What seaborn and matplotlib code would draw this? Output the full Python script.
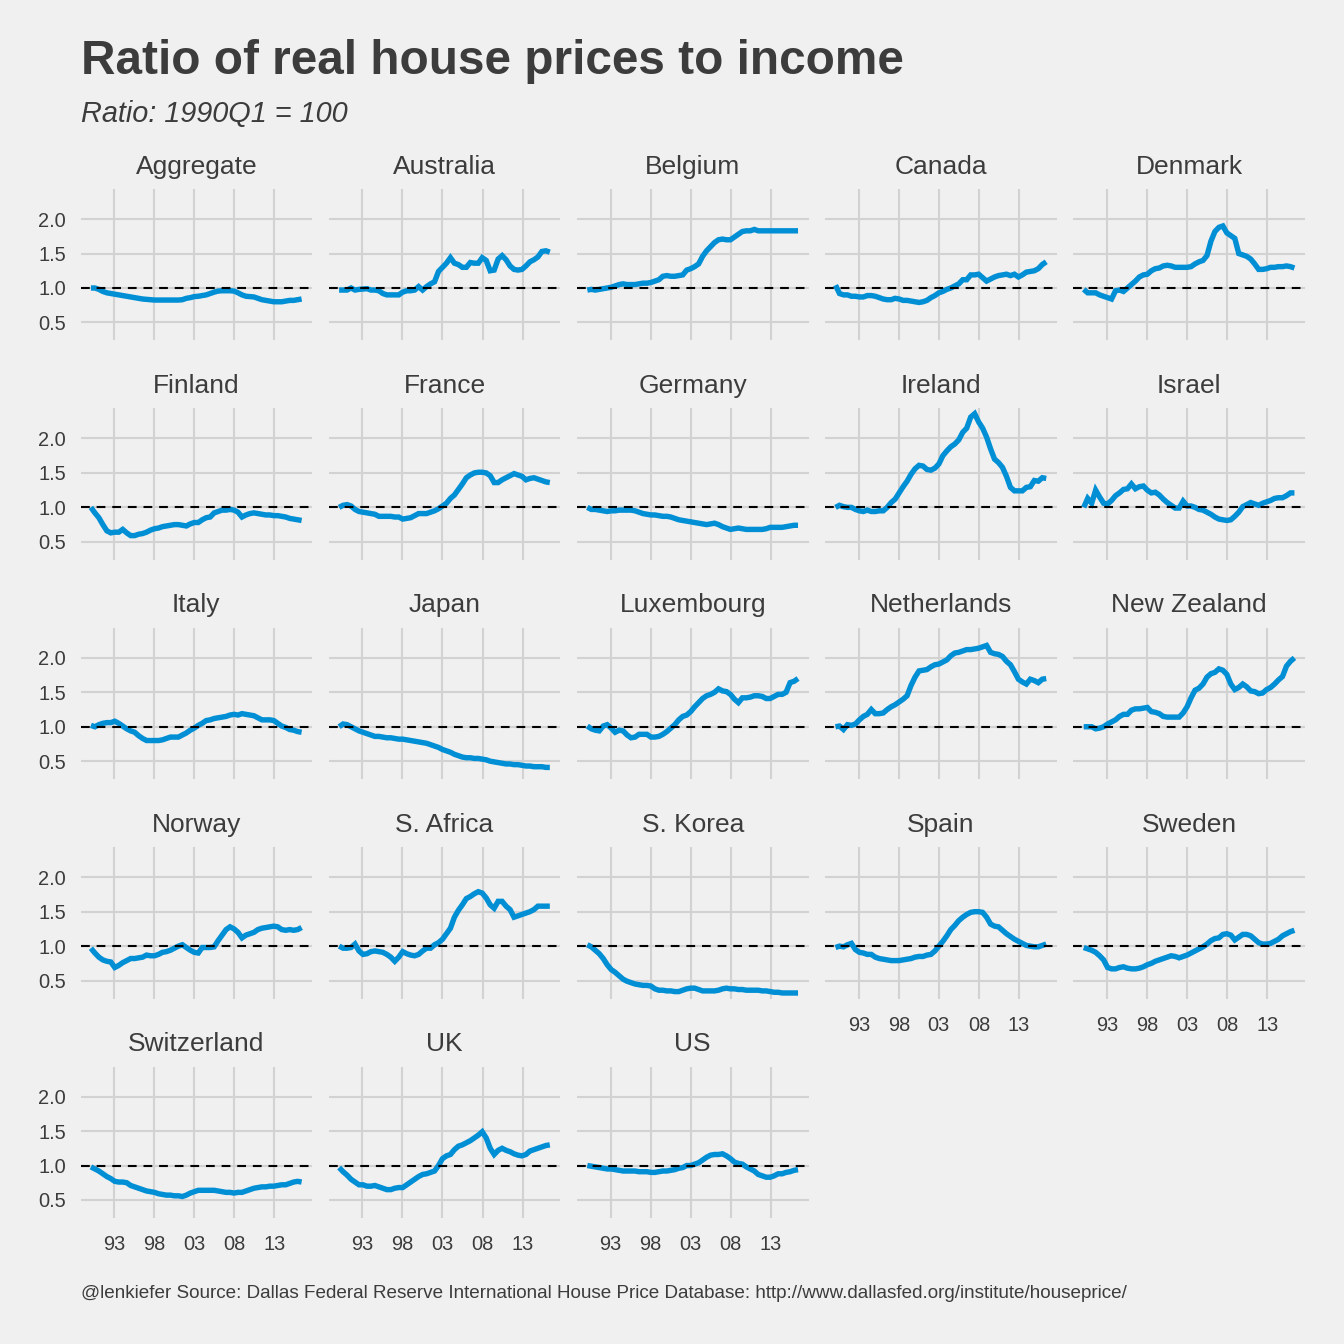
import numpy as np
import pandas as pd
import matplotlib
matplotlib.use("Agg")
import matplotlib.pyplot as plt
import seaborn as sns

TITLE = "Ratio of real house prices to income"
SUBTITLE = "Ratio: 1990Q1 = 100"
CAPTION = "@lenkiefer Source: Dallas Federal Reserve International House Price Database: http://www.dallasfed.org/institute/houseprice/"

countries = ["Aggregate", "Australia", "Belgium", "Canada", "Denmark", "Finland", "France", "Germany",
             "Ireland", "Israel", "Italy", "Japan", "Luxembourg", "Netherlands", "New Zealand", "Norway",
             "S. Africa", "S. Korea", "Spain", "Sweden", "Switzerland", "UK", "US"]
x_ticks = [1993, 1998, 2003, 2008, 2013]
x_labels = ["93", "98", "03", "08", "13"]
y_ticks = [0.5, 1.0, 1.5, 2.0]
y_labels = ["0.5", "1.0", "1.5", "2.0"]

# half-yearly readings, 1990 to 2016
aggregate = [1.0,1.0,.98,.95,.93,.92,.91,.90,.89,.88,.87,.86,.85,.84,.835,.83,.825,.825,.825,.825,.825,.825,.825,.83,.85,.86,.875,.88,.89,.90,.92,.94,.955,.96,.96,.96,.955,.93,.90,.88,.875,.87,.85,.83,.82,.81,.80,.80,.80,.81,.82,.82,.83,.84]
australia = [.97,.97,.97,1.0,.97,.98,.985,.99,.97,.97,.96,.92,.90,.90,.90,.90,.94,.96,.96,.97,1.02,.97,1.02,1.06,1.09,1.24,1.30,1.36,1.44,1.36,1.34,1.30,1.30,1.37,1.36,1.36,1.44,1.40,1.25,1.26,1.42,1.47,1.41,1.32,1.27,1.26,1.27,1.32,1.38,1.41,1.45,1.53,1.54,1.52]
belgium = [.97,.98,.97,.98,.99,1.0,1.01,1.03,1.05,1.06,1.05,1.05,1.05,1.06,1.07,1.07,1.08,1.10,1.12,1.17,1.18,1.17,1.17,1.18,1.19,1.26,1.28,1.31,1.35,1.46,1.54,1.60,1.66,1.70,1.71,1.70,1.70,1.74,1.78,1.82,1.83,1.83,1.85,1.83,1.83,1.83,1.83,1.83,1.83,1.83,1.83,1.83,1.83,1.83]
canada = [1.04,.92,.90,.90,.88,.88,.87,.87,.89,.89,.88,.86,.84,.83,.83,.85,.84,.82,.82,.81,.80,.79,.80,.82,.86,.89,.93,.95,.98,1.0,1.03,1.06,1.12,1.12,1.19,1.19,1.20,1.15,1.10,1.13,1.16,1.18,1.19,1.20,1.18,1.20,1.16,1.19,1.23,1.24,1.25,1.28,1.34,1.38]
denmark = [.98,.93,.93,.93,.90,.88,.86,.84,.96,.97,.95,1.0,1.05,1.10,1.16,1.19,1.20,1.25,1.28,1.29,1.32,1.33,1.32,1.30,1.30,1.30,1.30,1.31,1.35,1.38,1.40,1.47,1.68,1.82,1.88,1.90,1.80,1.76,1.72,1.50,1.48,1.46,1.42,1.35,1.27,1.27,1.28,1.30,1.30,1.31,1.31,1.32,1.31,1.29]
finland = [1.0,.92,.85,.75,.66,.63,.64,.64,.68,.63,.59,.59,.61,.62,.64,.67,.69,.70,.72,.73,.74,.75,.75,.74,.73,.76,.78,.78,.82,.85,.86,.92,.94,.96,.96,.97,.96,.93,.86,.89,.91,.92,.91,.90,.89,.89,.88,.88,.87,.86,.84,.83,.82,.81]
france = [1.0,1.03,1.04,1.02,.97,.94,.93,.92,.91,.90,.87,.87,.87,.87,.86,.86,.83,.84,.85,.88,.91,.91,.91,.93,.95,.98,1.02,1.06,1.13,1.18,1.26,1.34,1.43,1.47,1.50,1.51,1.51,1.50,1.46,1.36,1.36,1.40,1.43,1.46,1.49,1.47,1.45,1.40,1.42,1.43,1.41,1.39,1.37,1.36]
germany = [1.0,.97,.97,.96,.95,.94,.95,.95,.96,.96,.96,.96,.95,.93,.91,.90,.89,.89,.88,.87,.87,.86,.84,.82,.81,.80,.79,.78,.77,.76,.75,.76,.77,.75,.72,.70,.68,.69,.70,.69,.68,.68,.68,.68,.68,.69,.71,.71,.71,.71,.72,.73,.74,.74]
ireland = [1.0,1.03,1.01,1.0,1.0,.97,.95,.94,.96,.94,.94,.95,.95,1.0,1.07,1.12,1.21,1.30,1.38,1.48,1.56,1.61,1.60,1.55,1.54,1.57,1.63,1.75,1.82,1.88,1.92,1.98,2.09,2.15,2.31,2.36,2.24,2.15,2.02,1.85,1.70,1.65,1.58,1.45,1.29,1.24,1.24,1.24,1.29,1.30,1.39,1.38,1.43,1.42]
israel = [1.0,1.13,1.06,1.25,1.15,1.06,1.05,1.10,1.17,1.21,1.26,1.27,1.34,1.27,1.30,1.31,1.25,1.21,1.22,1.18,1.12,1.07,1.03,.99,.99,1.09,1.02,1.02,1.0,.97,.96,.93,.90,.86,.83,.82,.81,.82,.87,.93,1.01,1.04,1.07,1.05,1.03,1.06,1.08,1.10,1.13,1.14,1.14,1.17,1.21,1.21]
italy = [1.02,1.0,1.03,1.05,1.06,1.06,1.08,1.05,1.01,.97,.94,.92,.87,.83,.80,.80,.80,.80,.81,.83,.85,.85,.85,.88,.91,.95,.98,1.02,1.05,1.09,1.10,1.12,1.13,1.14,1.15,1.17,1.18,1.17,1.19,1.18,1.17,1.16,1.13,1.10,1.10,1.10,1.09,1.05,1.01,.99,.96,.95,.93,.92]
japan = [1.0,1.04,1.03,1.0,.97,.94,.92,.90,.88,.86,.86,.85,.84,.84,.83,.82,.82,.81,.80,.79,.78,.77,.76,.74,.72,.70,.67,.65,.63,.60,.58,.56,.55,.55,.54,.54,.53,.52,.50,.49,.48,.47,.46,.46,.45,.45,.44,.43,.43,.42,.42,.42,.41,.41]
luxembourg = [1.01,.97,.95,.94,1.01,1.03,.98,.92,.95,.94,.88,.84,.85,.89,.89,.89,.85,.85,.86,.89,.93,.98,1.03,1.10,1.15,1.17,1.22,1.29,1.35,1.41,1.45,1.47,1.50,1.55,1.52,1.51,1.47,1.40,1.35,1.42,1.42,1.43,1.45,1.45,1.44,1.41,1.41,1.44,1.47,1.47,1.50,1.64,1.66,1.70]
netherlands = [1.0,1.01,.96,1.03,1.02,1.04,1.10,1.15,1.18,1.25,1.19,1.19,1.20,1.25,1.29,1.32,1.36,1.40,1.45,1.60,1.72,1.81,1.82,1.83,1.87,1.90,1.91,1.94,1.97,2.03,2.07,2.08,2.10,2.12,2.12,2.13,2.14,2.16,2.18,2.08,2.06,2.05,2.02,1.95,1.90,1.80,1.69,1.65,1.62,1.69,1.67,1.64,1.69,1.70]
new_zealand = [1.0,1.0,1.0,.97,.98,1.0,1.04,1.07,1.10,1.15,1.18,1.18,1.24,1.26,1.26,1.27,1.28,1.22,1.21,1.19,1.15,1.14,1.14,1.14,1.14,1.20,1.29,1.42,1.53,1.56,1.62,1.72,1.77,1.79,1.84,1.82,1.76,1.62,1.54,1.57,1.62,1.58,1.52,1.51,1.48,1.49,1.54,1.57,1.62,1.68,1.73,1.88,1.95,2.0]
norway = [.97,.90,.84,.80,.78,.77,.69,.72,.76,.79,.82,.82,.83,.84,.87,.86,.86,.88,.91,.92,.94,.97,1.0,1.02,.98,.94,.91,.90,.98,.98,.98,.99,1.08,1.16,1.24,1.28,1.25,1.20,1.12,1.16,1.18,1.20,1.24,1.26,1.27,1.28,1.29,1.28,1.24,1.23,1.24,1.23,1.24,1.27]
s_africa = [1.0,.97,.97,.98,1.03,.93,.88,.89,.92,.93,.92,.91,.88,.84,.78,.84,.92,.89,.87,.86,.88,.93,.97,.97,1.02,1.05,1.10,1.18,1.26,1.42,1.52,1.60,1.69,1.72,1.76,1.79,1.77,1.70,1.60,1.55,1.65,1.65,1.58,1.53,1.42,1.44,1.46,1.48,1.50,1.53,1.58,1.58,1.58,1.58]
s_korea = [1.02,.99,.94,.89,.82,.73,.66,.62,.57,.52,.49,.47,.45,.44,.43,.43,.42,.38,.36,.36,.35,.35,.34,.34,.36,.38,.39,.39,.37,.35,.35,.35,.35,.36,.38,.39,.38,.38,.37,.37,.36,.36,.36,.36,.35,.35,.34,.33,.33,.32,.32,.32,.32,.32]
spain = [.98,1.0,.99,1.02,1.04,.95,.91,.90,.88,.88,.84,.82,.81,.80,.79,.79,.79,.80,.81,.82,.84,.85,.85,.87,.88,.93,1.0,1.07,1.15,1.24,1.30,1.37,1.42,1.46,1.49,1.50,1.50,1.49,1.42,1.32,1.29,1.28,1.23,1.18,1.14,1.10,1.07,1.04,1.01,1.0,.99,.99,1.01,1.03]
sweden = [.98,.96,.94,.91,.86,.80,.69,.67,.67,.69,.70,.68,.67,.67,.68,.70,.73,.75,.78,.80,.82,.84,.86,.85,.83,.85,.87,.90,.93,.96,.99,1.03,1.08,1.11,1.12,1.17,1.18,1.16,1.09,1.13,1.17,1.17,1.15,1.10,1.05,1.03,1.03,1.04,1.07,1.10,1.15,1.18,1.21,1.23]
switzerland = [.98,.95,.92,.88,.84,.81,.77,.76,.76,.75,.71,.69,.67,.65,.63,.62,.61,.59,.58,.57,.57,.56,.56,.55,.57,.60,.62,.64,.64,.64,.64,.64,.63,.62,.61,.61,.60,.61,.61,.63,.65,.67,.68,.69,.69,.70,.70,.71,.72,.72,.74,.76,.77,.76]
uk = [.97,.91,.86,.80,.76,.72,.72,.70,.70,.71,.69,.67,.65,.65,.67,.68,.68,.72,.76,.80,.84,.87,.88,.90,.92,1.0,1.10,1.14,1.16,1.23,1.28,1.30,1.33,1.36,1.40,1.44,1.49,1.40,1.25,1.16,1.22,1.25,1.22,1.20,1.17,1.15,1.14,1.16,1.21,1.23,1.25,1.27,1.29,1.30]
us = [1.0,.99,.98,.97,.96,.95,.95,.94,.93,.92,.92,.92,.92,.91,.91,.91,.90,.90,.91,.92,.92,.93,.94,.96,.97,1.0,1.0,1.02,1.04,1.08,1.12,1.15,1.16,1.16,1.17,1.14,1.10,1.05,1.03,1.02,.98,.95,.92,.87,.85,.83,.83,.85,.88,.88,.90,.91,.93,.94]

series = [aggregate, australia, belgium, canada, denmark, finland, france, germany, ireland, israel, italy,
          japan, luxembourg, netherlands, new_zealand, norway, s_africa, s_korea, spain, sweden, switzerland, uk, us]

frames = []
for name, vals in zip(countries, series):
    frames.append(pd.DataFrame({"country": name,
                                "year": np.linspace(1990.1, 2016.4, len(vals)),
                                "ratio": vals}))
df = pd.concat(frames, ignore_index=True)

BG = "#F0F0F0"
GRID = "#D2D2D2"
INK = "#3C3C3C"
BLUE = "#008FD5"

sns.set_theme(style="white", rc={"figure.facecolor": BG, "axes.facecolor": BG, "savefig.facecolor": BG})
plt.rcParams["font.family"] = ["Liberation Sans", "DejaVu Sans"]

W = H = 1344
g = sns.FacetGrid(df, col="country", col_order=countries, col_wrap=5, sharex=True, sharey=True,
                  height=2.2, aspect=1.5)
g.map_dataframe(sns.lineplot, x="year", y="ratio", color=BLUE, lw=3.9, errorbar=None,
                solid_joinstyle="miter", solid_capstyle="butt", zorder=3)
g.figure.set_size_inches(W / 100, H / 100)
g.figure.subplots_adjust(left=80.5 / W, right=1305 / W, top=1 - 189 / H, bottom=1 - 1218 / H,
                         wspace=16.5 / 231.5, hspace=67.9 / 151.5)

axes = g.axes.flatten()
for i, (ax, name) in enumerate(zip(axes, countries)):
    ax.set_xlim(1988.8, 2017.72)
    ax.set_ylim(0.238, 2.437)
    ax.set_xticks(x_ticks)
    ax.set_xticklabels(x_labels)
    ax.set_yticks(y_ticks)
    ax.set_yticklabels(y_labels)
    ax.grid(True, color=GRID, lw=1.5)
    ax.set_axisbelow(True)
    for s in ax.spines.values():
        s.set_visible(False)
    ax.axhline(1.0, color="black", lw=1.5, ls=(0, (4.2, 3.3)), zorder=4)
    ax.set_title(name, fontsize=19, color=INK, pad=11)
    ax.set_xlabel("")
    ax.set_ylabel("")
    show_x = i >= 18
    show_y = i % 5 == 0
    ax.tick_params(axis="both", length=0, labelsize=14.4, labelcolor=INK,
                   labelbottom=show_x, labelleft=show_y)
    ax.tick_params(axis="x", pad=12.5)
    ax.tick_params(axis="y", pad=10.4)
    for lab in ax.get_xticklabels():
        lab.set_visible(show_x)
    for lab in ax.get_yticklabels():
        lab.set_visible(show_y)

fig = g.figure
fig.text(81 / W, 1 - 62 / H, TITLE, fontsize=34.4, fontweight="bold", color=INK, va="center", ha="left")
fig.text(81 / W, 1 - 114 / H, SUBTITLE, fontsize=20.8, fontstyle="italic", color=INK, va="center", ha="left")
fig.text(81 / W, 1 - 1294 / H, CAPTION, fontsize=13.6, color=INK, va="center", ha="left")

fig.savefig("out.png", dpi=100, facecolor=BG)
